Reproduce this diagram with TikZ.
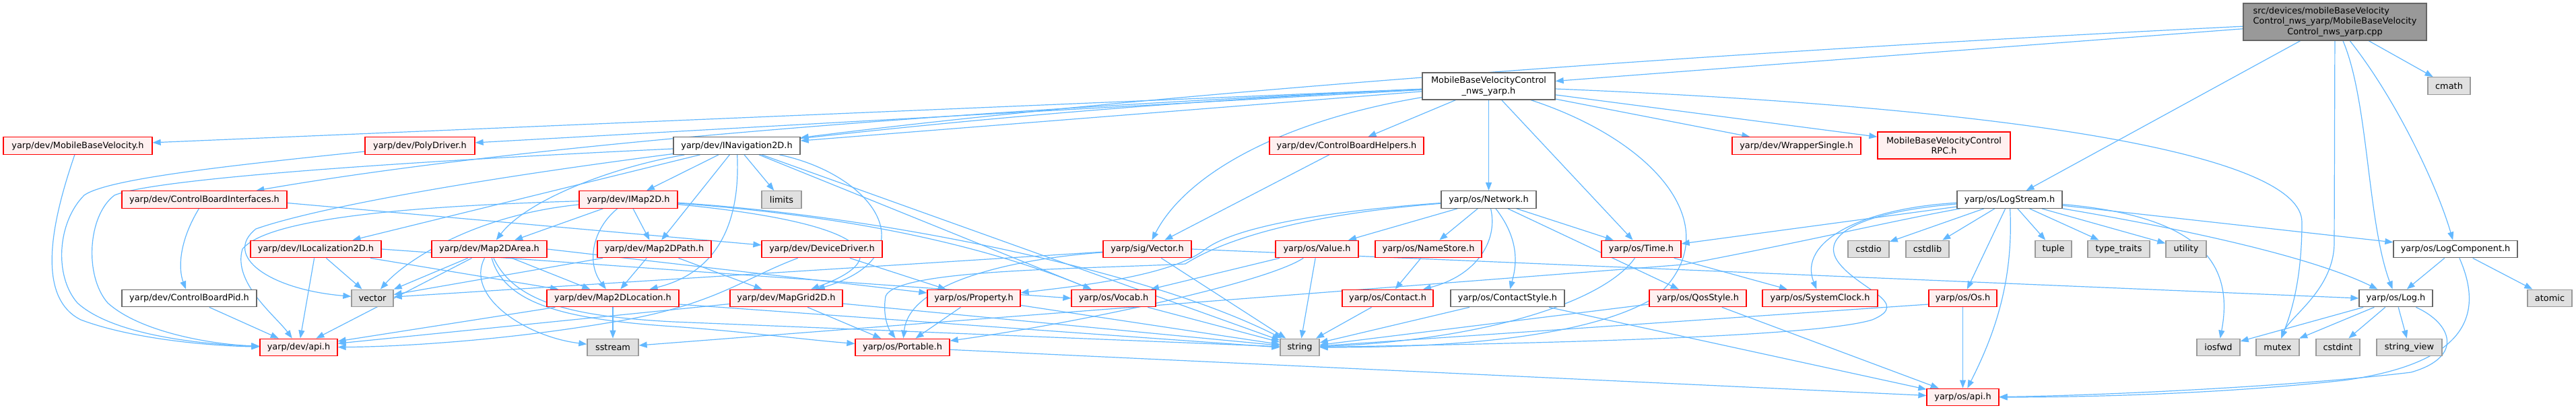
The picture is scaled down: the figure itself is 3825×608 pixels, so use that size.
\documentclass[tikz,border=0pt]{standalone}
\usepackage{fontspec}
\setmainfont{DejaVu Sans}
\usetikzlibrary{arrows.meta,calc}
\definecolor{edgeblue}{HTML}{63B8FF}
\definecolor{redfill}{HTML}{FFF0F0}
\definecolor{redline}{HTML}{FF0000}
\definecolor{grayfill}{HTML}{E0E0E0}
\definecolor{grayline}{HTML}{999999}
\definecolor{darkline}{HTML}{666666}
\definecolor{rootfill}{HTML}{999999}
\pgfdeclarelayer{bg}
\pgfsetlayers{bg,main}
\newcommand{\mknode}[7]{\node[#1, minimum width=#5pt, minimum height=#6pt] (#2) at (#3,#4) {#7};}
\begin{document}
\begin{tikzpicture}[x=1pt,y=-1pt,
  box/.style={draw, line width=1.3pt, inner xsep=3pt, inner ysep=0pt, minimum height=25.5pt, align=center, font=\fontsize{12.9}{15.5}\selectfont, text=black},
  rnode/.style={box, draw=redline, fill=redfill},
  gnode/.style={box, draw=grayline, fill=grayfill},
  wnode/.style={box, draw=darkline, fill=white},
  rootnode/.style={box, draw=darkline, fill=rootfill},
  lnk/.style={draw=edgeblue, line width=1.2pt, -{Triangle[length=12pt,width=9pt]}}]
\useasboundingbox (0,0) rectangle (3825,608);
% row 0
\mknode{rootnode}{root}{3467}{32.5}{272}{55}{\begin{tabular}{@{}l@{}}src/devices/mobileBaseVelocity\\Control\_nws\_yarp/MobileBaseVelocity\\\multicolumn{1}{@{}c@{}}{Control\_nws\_yarp.cpp}\end{tabular}}
% row 1
\mknode{wnode}{mbvc}{2210.5}{128}{197}{40}{MobileBaseVelocityControl\\\_nws\_yarp.h}
\mknode{gnode}{cmath}{3636.5}{127.5}{63}{25.5}{cmath}
% row 2
\mknode{rnode}{mbv}{115.5}{216.5}{221}{25.5}{yarp/dev/MobileBaseVelocity.h}
\mknode{rnode}{poly}{623.5}{216.5}{163}{25.5}{yarp/dev/PolyDriver.h}
\mknode{wnode}{inav}{1094}{216.5}{188}{25.5}{yarp/dev/INavigation2D.h}
\mknode{rnode}{cbh}{1999.5}{216.5}{229}{25.5}{yarp/dev/ControlBoardHelpers.h}
\mknode{rnode}{wrap}{2667.5}{216.5}{191}{25.5}{yarp/dev/WrapperSingle.h}
\mknode{rnode}{rpc}{2886.5}{216}{197}{40}{MobileBaseVelocityControl\\RPC.h}
% row 3
\mknode{rnode}{cbi}{303.5}{296.5}{245}{25.5}{yarp/dev/ControlBoardInterfaces.h}
\mknode{rnode}{imap}{933}{296.5}{146}{25.5}{yarp/dev/IMap2D.h}
\mknode{gnode}{limits}{1160.5}{296.5}{59}{25.5}{limits}
\mknode{wnode}{net}{2210.5}{296.5}{141}{25.5}{yarp/os/Network.h}
\mknode{wnode}{logs}{2984}{296.5}{156}{25.5}{yarp/os/LogStream.h}
% row 4
\mknode{rnode}{iloc}{469}{370}{194}{25.5}{yarp/dev/ILocalization2D.h}
\mknode{rnode}{area}{726.5}{370}{171}{25.5}{yarp/dev/Map2DArea.h}
\mknode{rnode}{path}{971.5}{370}{169}{25.5}{yarp/dev/Map2DPath.h}
\mknode{rnode}{ddrv}{1220.5}{370}{179}{25.5}{yarp/dev/DeviceDriver.h}
\mknode{rnode}{svec}{1703.5}{370}{131}{25.5}{yarp/sig/Vector.h}
\mknode{rnode}{value}{1955.5}{370}{123}{25.5}{yarp/os/Value.h}
\mknode{rnode}{names}{2121}{370}{158}{25.5}{yarp/os/NameStore.h}
\mknode{rnode}{time}{2437}{370}{118}{25.5}{yarp/os/Time.h}
\mknode{gnode}{cstdio}{2774.5}{370}{61}{25.5}{cstdio}
\mknode{gnode}{cstdlib}{2862}{370}{64}{25.5}{cstdlib}
\mknode{gnode}{tuple}{3049}{370}{54}{25.5}{tuple}
\mknode{gnode}{tt}{3146}{370}{92}{25.5}{type\_traits}
\mknode{gnode}{util}{3246}{370}{60}{25.5}{utility}
\mknode{wnode}{logc}{3646}{370}{184}{25.5}{yarp/os/LogComponent.h}
% row 5
\mknode{wnode}{cbpid}{281}{443}{200}{25.5}{yarp/dev/ControlBoardPid.h}
\mknode{gnode}{vector}{553}{443}{62}{25.5}{vector}
\mknode{rnode}{loc}{910}{443}{196}{25.5}{yarp/dev/Map2DLocation.h}
\mknode{rnode}{grid}{1167.5}{443}{167}{25.5}{yarp/dev/MapGrid2D.h}
\mknode{rnode}{prop}{1446}{443}{138}{25.5}{yarp/os/Property.h}
\mknode{rnode}{vocab}{1653.5}{443}{125}{25.5}{yarp/os/Vocab.h}
\mknode{rnode}{contact}{2060.5}{443}{135}{25.5}{yarp/os/Contact.h}
\mknode{wnode}{cstyle}{2238.5}{443}{169}{25.5}{yarp/os/ContactStyle.h}
\mknode{rnode}{qos}{2521}{443}{144}{25.5}{yarp/os/QosStyle.h}
\mknode{rnode}{sclock}{2702.5}{443}{171}{25.5}{yarp/os/SystemClock.h}
\mknode{rnode}{os}{2914.5}{443}{101}{25.5}{yarp/os/Os.h}
\mknode{wnode}{log}{3557.5}{443}{109}{25.5}{yarp/os/Log.h}
\mknode{gnode}{atomic}{3786}{443}{66}{25.5}{atomic}
% row 6
\mknode{rnode}{devapi}{443.5}{516}{115}{25.5}{yarp/dev/api.h}
\mknode{gnode}{sstream}{910}{516}{76}{25.5}{sstream}
\mknode{rnode}{port}{1340}{516}{140}{25.5}{yarp/os/Portable.h}
\mknode{gnode}{string}{1930}{516}{58}{25.5}{string}
\mknode{gnode}{iosfwd}{3294}{516}{64}{25.5}{iosfwd}
\mknode{gnode}{mutex}{3382}{516}{64}{25.5}{mutex}
\mknode{gnode}{cstdint}{3471.5}{516}{65}{25.5}{cstdint}
\mknode{gnode}{sview}{3577.5}{516}{97}{25.5}{string\_view}
% row 7
\mknode{rnode}{osapi}{2914.5}{590}{107}{25.5}{yarp/os/api.h}

\begin{pgfonlayer}{bg}
% root
\draw[lnk] (root) -- (mbvc);
\draw[lnk] (root) .. controls (2500,80) and (1700,140) .. (inav);
\draw[lnk] (root) -- (logs);
\draw[lnk] (root) -- (3466,360) .. controls (3466,430) and (3400,470) .. (mutex);
\draw[lnk] (root) .. controls (3517,150) and (3515,330) .. (log);
\draw[lnk] (root) .. controls (3560,150) and (3620,280) .. (logc);
\draw[lnk] (root) -- (cmath);
% mbvc
\draw[lnk] (mbvc) -- (mbv);
\draw[lnk] (mbvc) -- (poly);
\draw[lnk] (mbvc) -- (inav);
\draw[lnk] (mbvc) .. controls (1500,160) and (800,210) .. (cbi);
\draw[lnk] (mbvc) -- (cbh);
\draw[lnk] (mbvc) -- (net);
\draw[lnk] (mbvc) -- (time);
\draw[lnk] (mbvc) .. controls (2460,210) and (2570,340) .. (2460,440) .. controls (2350,510) and (2100,516) .. (string);
\draw[lnk] (mbvc) -- (wrap);
\draw[lnk] (mbvc) -- (rpc);
\draw[lnk] (mbvc) .. controls (3000,160) and (3418,230) .. (3418,330) .. controls (3418,420) and (3400,470) .. (mutex);
\draw[lnk] (mbvc) .. controls (1900,180) and (1760,260) .. (svec);
\draw[lnk] (mbvc) .. controls (1300,170) and (550,280) .. (380,340) .. controls (330,380) and (400,430) .. (vector);
% inav
\draw[lnk] (inav) .. controls (600,240) and (230,265) .. (170,290) .. controls (130,320) and (125,410) .. (160,450) .. controls (210,495) and (320,512) .. (devapi);
\draw[lnk] (inav) -- (iloc);
\draw[lnk] (inav) .. controls (900,250) and (780,300) .. (area);
\draw[lnk] (inav) -- (imap);
\draw[lnk] (inav) -- (path);
\draw[lnk] (inav) .. controls (1098,300) and (1085,400) .. (loc);
\draw[lnk] (inav) -- (limits);
\draw[lnk] (inav) .. controls (1300,260) and (1380,380) .. (grid);
\draw[lnk] (inav) -- (vocab);
\draw[lnk] (inav) -- (string);
% poly, mbv
\draw[lnk] (poly) .. controls (350,245) and (160,265) .. (125,290) .. controls (85,330) and (80,410) .. (115,450) .. controls (170,500) and (310,512) .. (devapi);
\draw[lnk] (mbv) .. controls (80,320) and (50,440) .. (120,475) .. controls (200,505) and (320,514) .. (devapi);
% imap
\draw[lnk] (imap) .. controls (650,305) and (400,320) .. (360,370) .. controls (345,420) and (410,470) .. (devapi);
\draw[lnk] (imap) .. controls (700,320) and (600,390) .. (vector);
\draw[lnk] (imap) -- (area);
\draw[lnk] (imap) .. controls (880,340) and (870,390) .. (loc);
\draw[lnk] (imap) -- (path);
\draw[lnk] (imap) .. controls (1280,330) and (1340,380) .. (grid);
\draw[lnk] (imap) .. controls (1250,320) and (1450,360) .. (vocab);
\draw[lnk] (imap) .. controls (1300,320) and (1700,400) .. (string);
% iloc
\draw[lnk] (iloc) -- (devapi);
\draw[lnk] (iloc) -- (vector);
\draw[lnk] (iloc) -- (loc);
\draw[lnk] (iloc.east) -- (vocab.west);
% area
\draw[lnk] (area) -- (vector);
\draw[lnk] (area) -- (devapi);
\draw[lnk] (area) .. controls (690,440) and (780,500) .. (sstream);
\draw[lnk] (area) .. controls (750,455) and (850,475) .. (1000,485) .. controls (1100,492) and (1200,505) .. (port);
\draw[lnk] (area) .. controls (765,450) and (850,470) .. (1000,478) -- (string);
\draw[lnk] (area) -- (loc);
\draw[lnk] (area.east) -- (prop);
% path
\draw[lnk] (path) -- (vector);
\draw[lnk] (path) -- (loc);
\draw[lnk] (path) -- (grid);
% ddrv
\draw[lnk] (ddrv) .. controls (1100,415) and (1060,455) .. (900,480) .. controls (750,505) and (600,515) .. (devapi);
\draw[lnk] (ddrv) -- (prop);
% cbi, cbpid, cbh
\draw[lnk] (cbi) .. controls (265,360) and (265,400) .. (cbpid);
\draw[lnk] ($(cbi.east)+(0,5)$) -- ($(ddrv.west)+(0,-6)$);
\draw[lnk] (cbpid) -- (devapi);
\draw[lnk] (cbh) -- (svec);
% svec
\draw[lnk] (svec) -- (vector);
\draw[lnk] (svec) .. controls (1500,385) and (1350,420) .. (port);
\draw[lnk] (svec) -- (string);
\draw[lnk] (svec.east) -- (log.west);
% value
\draw[lnk] (value) -- (vocab);
\draw[lnk] (value) .. controls (1880,420) and (1600,480) .. (port);
\draw[lnk] (value) -- (string);
% net
\draw[lnk] (net) -- (value);
\draw[lnk] (net) -- (names);
\draw[lnk] (net) .. controls (2225,360) and (2190,410) .. (contact);
\draw[lnk] (net) .. controls (2260,360) and (2250,400) .. (cstyle);
\draw[lnk] (net) -- (qos);
\draw[lnk] (net) -- (time);
\draw[lnk] (net) .. controls (1950,315) and (1830,340) .. (1790,370) .. controls (1740,410) and (1600,425) .. (prop);
\draw[lnk] (net) .. controls (1920,320) and (1810,360) .. (1760,392) .. controls (1600,400) and (1330,400) .. (1315,440) .. controls (1310,470) and (1320,490) .. (port);
\draw[lnk] (names) -- (contact);
% time
\draw[lnk] (time) .. controls (2380,450) and (2200,505) .. (string);
\draw[lnk] (time) -- (sclock);
% contact etc
\draw[lnk] (contact) -- (string);
\draw[lnk] (cstyle) -- (string);
\draw[lnk] (cstyle) -- (osapi);
\draw[lnk] (qos) -- (string);
\draw[lnk] (qos) -- (osapi);
\draw[lnk] (os) -- (osapi);
\draw[lnk] ($(os.west)+(0,9)$) -- (string);
% logstream
\draw[lnk] (logs) -- (cstdio);
\draw[lnk] (logs) -- (cstdlib);
\draw[lnk] (logs) -- (tuple);
\draw[lnk] (logs) -- (tt);
\draw[lnk] (logs) -- (util);
\draw[lnk] (logs) -- (os);
\draw[lnk] (logs) .. controls (2990,420) and (2960,500) .. (osapi);
\draw[lnk] (logs) .. controls (2760,310) and (2670,360) .. (sclock);
\draw[lnk] (logs) .. controls (2760,315) and (2700,350) .. (2730,390) .. controls (2760,430) and (2840,450) .. (2780,475) .. controls (2700,500) and (2300,510) .. (string);
\draw[lnk] (logs) -- (time);
\draw[lnk] (logs) .. controls (2800,330) and (2700,355) .. (2500,393) -- (sstream);
\draw[lnk] (logs) .. controls (3250,320) and (3320,380) .. (iosfwd);
\draw[lnk] (logs) .. controls (3300,350) and (3450,390) .. (log);
\draw[lnk] (logs) -- (logc);
% logcomponent, log
\draw[lnk] (logc) -- (log);
\draw[lnk] (logc) -- (atomic);
\draw[lnk] (logc) .. controls (3690,470) and (3660,540) .. (3480,565) .. controls (3300,585) and (3100,590) .. (osapi);
\draw[lnk] (log) -- (iosfwd);
\draw[lnk] (log) -- (mutex);
\draw[lnk] (log) -- (cstdint);
\draw[lnk] (log) -- (sview);
\draw[lnk] (log) .. controls (3640,480) and (3660,530) .. (3580,553) .. controls (3400,575) and (3100,588) .. (osapi);
% loc, grid, prop, vocab, port
\draw[lnk] (loc) -- (sstream);
\draw[lnk] (loc) -- (devapi);
\draw[lnk] ($(loc.east)+(0,9)$) -- (string.west);
\draw[lnk] (grid) -- (port);
\draw[lnk] (grid) -- (devapi);
\draw[lnk] (grid) -- (string);
\draw[lnk] (prop) -- (port);
\draw[lnk] (prop) -- (string);
\draw[lnk] (vocab) -- (string);
\draw[lnk] (port) -- (osapi);
\end{pgfonlayer}
\end{tikzpicture}
\end{document}
